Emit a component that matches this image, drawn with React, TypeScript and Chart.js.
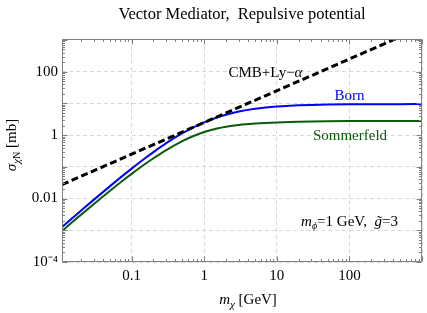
import React, { useEffect, useRef } from "react";
import { Chart, registerables } from "chart.js";
Chart.register(...registerables);

// ---- data ----
const massGeV = [0.011, 0.015, 0.02, 0.03, 0.05, 0.07, 0.1, 0.15, 0.2, 0.3, 0.5, 0.7, 1, 1.5, 2, 3, 5, 7, 10, 15, 20, 30, 50, 100, 200, 500, 1000];
const bornMb = [0.00127, 0.00234, 0.00412, 0.00909, 0.0242, 0.0456, 0.0878, 0.18, 0.292, 0.556, 1.145, 1.731, 2.524, 3.59, 4.396, 5.508, 6.731, 7.384, 7.938, 8.413, 8.666, 8.932, 9.153, 9.324, 9.411, 9.464, 9.482];
const sommerfeldMb = [0.00095, 0.00175, 0.00306, 0.00666, 0.01736, 0.0321, 0.06, 0.1183, 0.1864, 0.3381, 0.6481, 0.9231, 1.2484, 1.6072, 1.8269, 2.0765, 2.3024, 2.4157, 2.5116, 2.5978, 2.6431, 2.694, 2.736, 2.768, 2.784, 2.794, 2.797];
const cmbMass = [0.011, 1000];
const cmbMb = [0.0275, 2500];

const xTickValues = [0.1, 1, 10, 100, 1000];
const xTickLabels = ["0.1", "1", "10", "100", ""];
const yTickValues = [1e-4, 1e-3, 0.01, 0.1, 1, 10, 100, 1000];
const yTickLabels = ["10\u207B\u2074", "", "0.01", "", "1", "", "100", ""];

const X_MIN = 0.011, X_MAX = 1000, Y_MIN = 1e-4, Y_MAX = 1070;

const SERIF = "'Liberation Serif', 'Times New Roman', serif";
const BLUE = "#0000ff";
const GREEN = "#0b5a0b";
const FRAME = "#808080";

function labelFor(values: number[], labels: string[], v: number) {
  for (let i = 0; i < values.length; i++) {
    if (Math.abs(Math.log10(values[i]) - Math.log10(v)) < 1e-6) return labels[i];
  }
  return "";
}

type Seg = { t: string; size?: number; italic?: boolean; dy?: number };

function drawRich(ctx: CanvasRenderingContext2D, segs: Seg[], cx: number, cy: number, color: string) {
  const fontOf = (s: Seg) => `${s.italic ? "italic " : ""}${s.size || 15}px ${SERIF}`;
  let total = 0;
  const widths = segs.map((s) => {
    ctx.font = fontOf(s);
    const w = ctx.measureText(s.t).width;
    total += w;
    return w;
  });
  let x = cx - total / 2;
  ctx.fillStyle = color;
  ctx.textBaseline = "alphabetic";
  ctx.textAlign = "left";
  segs.forEach((s, i) => {
    ctx.font = fontOf(s);
    ctx.fillText(s.t, x, cy + (s.dy || 0));
    x += widths[i];
  });
}

const decorPlugin = {
  id: "decor",
  afterDatasetsDraw(chart: any) {
    const { ctx, chartArea: a, scales } = chart;
    const xs = scales.x, ys = scales.y;
    ctx.save();
    ctx.strokeStyle = FRAME;
    ctx.lineWidth = 1;
    const L = Math.round(a.left) + 0.5, R = Math.round(a.right) - 0.5;
    const T = Math.round(a.top) + 0.5, B = Math.round(a.bottom) - 0.5;
    ctx.beginPath();
    ctx.rect(L, T, R - L, B - T);
    ctx.stroke();
    ctx.beginPath();
    for (let e = -3; e <= 3; e++) {
      for (let m = 1; m <= 9; m++) {
        const v = m * Math.pow(10, e);
        if (v < X_MIN || v > X_MAX) continue;
        const px = Math.round(xs.getPixelForValue(v)) + 0.5;
        const len = m === 1 ? 5 : 2.5;
        ctx.moveTo(px, B); ctx.lineTo(px, B - len);
        ctx.moveTo(px, T); ctx.lineTo(px, T + len);
      }
    }
    for (let e = -4; e <= 3; e++) {
      for (let m = 1; m <= 9; m++) {
        const v = m * Math.pow(10, e);
        if (v < Y_MIN || v > Y_MAX) continue;
        const py = Math.round(ys.getPixelForValue(v)) + 0.5;
        const len = m === 1 ? 5 : 2.5;
        ctx.moveTo(L, py); ctx.lineTo(L + len, py);
        ctx.moveTo(R, py); ctx.lineTo(R - len, py);
      }
    }
    ctx.stroke();
    ctx.restore();
  },
  afterDraw(chart: any) {
    const { ctx } = chart;
    ctx.save();
    // title
    drawRich(ctx, [{ t: "Vector Mediator,  Repulsive potential", size: 16.5 }], 242, 19, "#000");
    // x axis title
    drawRich(ctx, [{ t: "m", italic: true }, { t: "\u03C7", italic: true, size: 11, dy: 3.5 }, { t: " [GeV]" }], 248, 304, "#000");
    // y axis title (rotated)
    ctx.save();
    ctx.translate(16, 145);
    ctx.rotate(-Math.PI / 2);
    drawRich(ctx, [{ t: "\u03C3", italic: true }, { t: "\u03C7", italic: true, size: 11, dy: 3.5 }, { t: "N", size: 10, dy: 3.5 }, { t: " [mb]" }], 0, 0, "#000");
    ctx.restore();
    // annotations
    drawRich(ctx, [{ t: "CMB+Ly\u2212" }, { t: "\u03B1", italic: true }], 265.5, 76.5, "#000");
    drawRich(ctx, [{ t: "Born" }], 349.5, 99.5, BLUE);
    drawRich(ctx, [{ t: "Sommerfeld" }], 350, 139.5, GREEN);
    drawRich(ctx, [
      { t: "m", italic: true },
      { t: "\u03D5", italic: true, size: 10, dy: 3 },
      { t: "=1 GeV,  " },
      { t: "g\u0303", italic: true },
      { t: "=3" },
    ], 349.5, 225.5, "#000");
    ctx.restore();
  },
};

export default function App() {
  const ref = useRef<HTMLCanvasElement | null>(null);
  useEffect(() => {
    document.body.style.margin = "0";
    if (!ref.current) return;
    const chart = new Chart(ref.current, {
      type: "line",
      data: {
        datasets: [
          {
            label: "CMB+Ly-α",
            data: cmbMass.map((x, i) => ({ x, y: cmbMb[i] })),
            borderColor: "#000",
            borderWidth: 3,
            borderDash: [7, 3.5],
            pointRadius: 0,
          },
          {
            label: "Born",
            data: massGeV.map((x, i) => ({ x, y: bornMb[i] })),
            borderColor: BLUE,
            borderWidth: 2,
            pointRadius: 0,
            cubicInterpolationMode: "monotone",
          },
          {
            label: "Sommerfeld",
            data: massGeV.map((x, i) => ({ x, y: sommerfeldMb[i] })),
            borderColor: GREEN,
            borderWidth: 2,
            pointRadius: 0,
            cubicInterpolationMode: "monotone",
          },
        ],
      },
      options: {
        animation: false,
        responsive: false,
        maintainAspectRatio: false,
        layout: { padding: { top: 39, right: 5, left: 0, bottom: 0 } },
        plugins: { legend: { display: false }, tooltip: { enabled: false }, title: { display: false } },
        scales: {
          x: {
            type: "logarithmic",
            min: X_MIN,
            max: X_MAX,
            afterBuildTicks: (s: any) => { s.ticks = xTickValues.map((v) => ({ value: v })); },
            afterFit: (s: any) => { s.height = 51; },
            grid: { color: "#d8d8d8", drawTicks: false, lineWidth: 1 },
            border: { display: false, dash: [4, 3] },
            ticks: {
              autoSkip: false,
              maxRotation: 0,
              padding: 5,
              color: "#000",
              font: { family: SERIF, size: 15 },
              callback: (v: any) => labelFor(xTickValues, xTickLabels, Number(v)),
            },
          },
          y: {
            type: "logarithmic",
            min: Y_MIN,
            max: Y_MAX,
            afterBuildTicks: (s: any) => { s.ticks = yTickValues.map((v) => ({ value: v })); },
            afterFit: (s: any) => { s.width = 62; },
            grid: { color: "#d8d8d8", drawTicks: false, lineWidth: 1 },
            border: { display: false, dash: [4, 3] },
            ticks: {
              autoSkip: false,
              padding: 4,
              color: "#000",
              font: { family: SERIF, size: 15 },
              callback: (v: any) => labelFor(yTickValues, yTickLabels, Number(v)),
            },
          },
        },
      } as any,
      plugins: [decorPlugin],
    });
    return () => chart.destroy();
  }, []);
  return (
    <div style={{ width: 427, height: 313 }}>
      <canvas ref={ref} width={427} height={313} style={{ display: "block" }} />
    </div>
  );
}
